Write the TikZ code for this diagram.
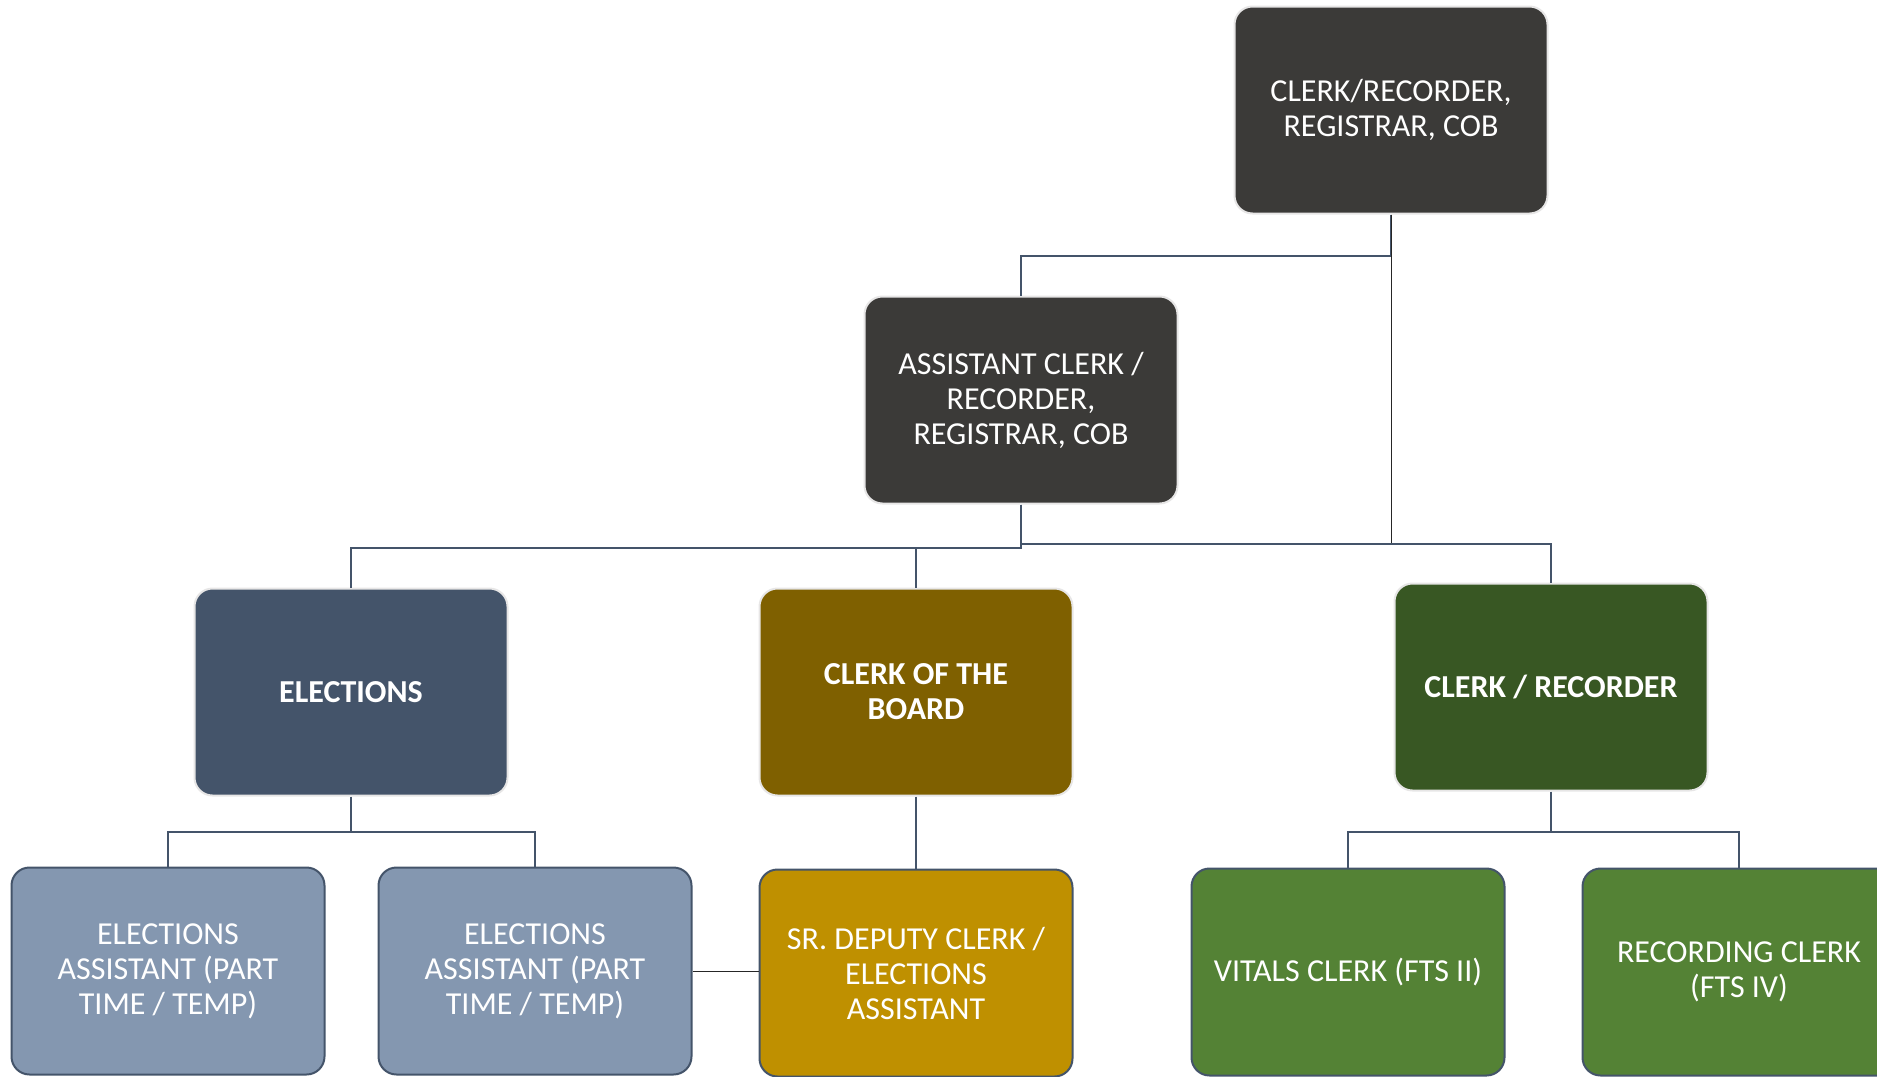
\documentclass[tikz,border=0pt]{standalone}
\usepackage{fontspec}
\setmainfont{Carlito}
\definecolor{boxdark}{RGB}{59,58,56}
\definecolor{elecblue}{RGB}{68,84,106}
\definecolor{elecpale}{RGB}{132,151,176}
\definecolor{cobbrown}{RGB}{127,96,0}
\definecolor{cobgold}{RGB}{191,144,0}
\definecolor{recgreen}{RGB}{56,87,35}
\definecolor{recleaf}{RGB}{84,130,53}
\definecolor{edgegrey}{RGB}{231,230,230}

\begin{document}
\begin{tikzpicture}[x=.5pt,y=-.5pt,
	box/.style={rounded corners=9pt,minimum width=156.5pt,minimum height=103.5pt,inner sep=4pt,
		align=center,text=white,font=\fontsize{16}{17.5}\selectfont},
	head/.style={box,fill=boxdark,draw=edgegrey,line width=1pt},
	dept/.style={box,draw=edgegrey,line width=1pt,font=\fontsize{16}{17.5}\selectfont\bfseries},
	staff/.style={box,draw=elecblue,line width=1pt},
	link/.style={draw=elecblue,line width=1pt},
	thinlink/.style={draw=black!85,line width=.5pt}]
\useasboundingbox (0,0) rectangle (1877,1076);
\clip (0,0) rectangle (1877,1076);

% top of the chart
\node (top) at (1391,110) [head] {CLERK/RECORDER,\\REGISTRAR, COB};
\node (asst) at (1021,400) [head] {ASSISTANT CLERK /\\RECORDER,\\REGISTRAR, COB};

% departments
\node (elec) at (351,692) [dept,fill=elecblue] {ELECTIONS};
\node (cob) at (916,692) [dept,fill=cobbrown] {CLERK OF THE\\BOARD};
\node (crec) at (1551,687) [dept,fill=recgreen] {CLERK / RECORDER};

% staff
\node (ea1) at (168,971) [staff,fill=elecpale] {ELECTIONS\\ASSISTANT (PART\\TIME / TEMP)};
\node (ea2) at (535,971) [staff,fill=elecpale] {ELECTIONS\\ASSISTANT (PART\\TIME / TEMP)};
\node (srdep) at (916,973) [staff,fill=cobgold] {SR. DEPUTY CLERK /\\ELECTIONS\\ASSISTANT};
\node (vital) at (1348,972) [staff,fill=recleaf] {VITALS CLERK (FTS II)};
\node (recclk) at (1739,972) [staff,fill=recleaf] {RECORDING CLERK\\(FTS IV)};

% connectors
\coordinate (jn) at (1390,545);
\draw[link] (top.south) -- ++(0,41) -| (asst.north);
\draw[thinlink] (top.south) -- (top.south |- jn);
\draw[link] (asst.south) -- ++(0,43) -| (elec.north);
\draw[link] (asst.south) ++(0,43) -| (cob.north);
\draw[link] (asst.south) -- ++(0,39) -| (crec.north);
\draw[link] (elec.south) -- ++(0,35) -| (ea1.north);
\draw[link] (elec.south) ++(0,35) -| (ea2.north);
\draw[link] (cob.south) -- (srdep.north);
\draw[thinlink] (ea2.east) -- (ea2.east -| srdep.west);
\draw[link] (crec.south) -- ++(0,40) -| (vital.north);
\draw[link] (crec.south) ++(0,40) -| (recclk.north);
\end{tikzpicture}
\end{document}
